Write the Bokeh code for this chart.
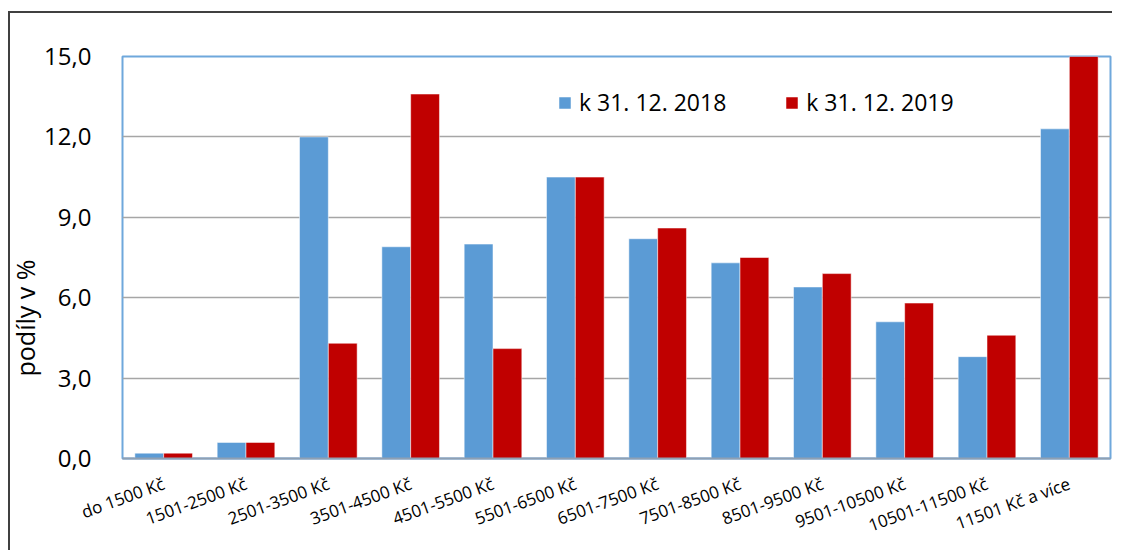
from bokeh.plotting import figure
from bokeh.models import (ColumnDataSource, FactorRange, Range1d, FixedTicker,
                          CustomJSTickFormatter, Legend, LegendItem, Title)
from bokeh.transform import dodge
from bokeh.embed import file_html
from bokeh.resources import INLINE

categories = ["do 1500 Kč", "1501-2500 Kč", "2501-3500 Kč", "3501-4500 Kč",
              "4501-5500 Kč", "5501-6500 Kč", "6501-7500 Kč", "7501-8500 Kč",
              "8501-9500 Kč", "9501-10500 Kč", "10501-11500 Kč", "11501 Kč a více"]
series_2018 = [0.2, 0.6, 12.0, 7.9, 8.0, 10.5, 8.2, 7.3, 6.4, 5.1, 3.8, 12.3]
series_2019 = [0.2, 0.6, 4.3, 13.6, 4.1, 10.5, 8.6, 7.5, 6.9, 5.8, 4.6, 15.0]
series_names = ["k 31. 12. 2018", "k 31. 12. 2019"]
y_ticks = [0, 3, 6, 9, 12, 15]
y_label = "podíly v %"

FONT = "Open Sans"
BLUE = "#5b9bd5"
RED = "#c00000"

src = ColumnDataSource(dict(cat=categories, a=series_2018, b=series_2019))

p = figure(x_range=FactorRange(*categories, range_padding=0),
           y_range=Range1d(0, 15),
           width=1112, height=550,
           min_border_left=122, min_border_right=2,
           min_border_top=56, min_border_bottom=70,
           output_backend="svg", toolbar_location=None)

# outer chart frame (dark lines on the left and top), drawn as CSS background
p.border_fill_color = None
p.background_fill_color = "white"
p.styles = {
    "background-color": "white",
    "background-image": "linear-gradient(#404040, #404040), linear-gradient(#404040, #404040)",
    "background-size": "2px 100%, 100% 2px",
    "background-position": "8px 11px, 8px 11px",
    "background-repeat": "no-repeat",
}

r1 = p.vbar(x=dodge("cat", -0.175, range=p.x_range), top="a", width=0.35,
            source=src, fill_color=BLUE, line_color="white", line_alpha=0.5,
            line_width=1)
r2 = p.vbar(x=dodge("cat", 0.175, range=p.x_range), top="b", width=0.35,
            source=src, fill_color=RED, line_color="white", line_alpha=0.5,
            line_width=1)

p.outline_line_color = "#6fa8dc"
p.outline_line_width = 2

p.xgrid.grid_line_color = None
p.ygrid.grid_line_color = "#a6a6a6"
p.ygrid.grid_line_width = 1.5

p.yaxis.ticker = FixedTicker(ticks=y_ticks)
p.yaxis.formatter = CustomJSTickFormatter(code="return tick.toFixed(1).replace('.', ',');")
p.yaxis.major_label_text_font = FONT
p.yaxis.major_label_text_font_size = "24px"
p.yaxis.major_label_text_color = "black"
p.yaxis.major_label_standoff = 25
p.yaxis.major_tick_line_color = None
p.yaxis.minor_tick_line_color = None
p.yaxis.axis_line_color = None

p.xaxis.major_label_orientation = 0.35
p.xaxis.major_label_text_font = FONT
p.xaxis.major_label_text_font_size = "17px"
p.xaxis.major_label_text_color = "black"
p.xaxis.major_label_standoff = 18
p.xaxis.major_tick_line_color = None
p.xaxis.axis_line_color = "#8fa0b3"
p.xaxis.axis_line_width = 2

ytitle = Title(text=y_label, align="left", offset=82,
               text_font=FONT, text_font_size="25px", text_font_style="normal",
               text_color="black", standoff=0)
p.add_layout(ytitle, "left")

legend = Legend(items=[LegendItem(label=series_names[0], renderers=[r1]),
                       LegendItem(label=series_names[1], renderers=[r2])],
                orientation="horizontal", location=(435, 340),
                padding=0, margin=0, spacing=58,
                glyph_width=15, glyph_height=15, label_standoff=7,
                label_text_font=FONT, label_text_font_size="23px",
                label_text_color="black",
                border_line_alpha=0, background_fill_alpha=0)
p.add_layout(legend)

open("out.html", "w").write(file_html(p, INLINE))
